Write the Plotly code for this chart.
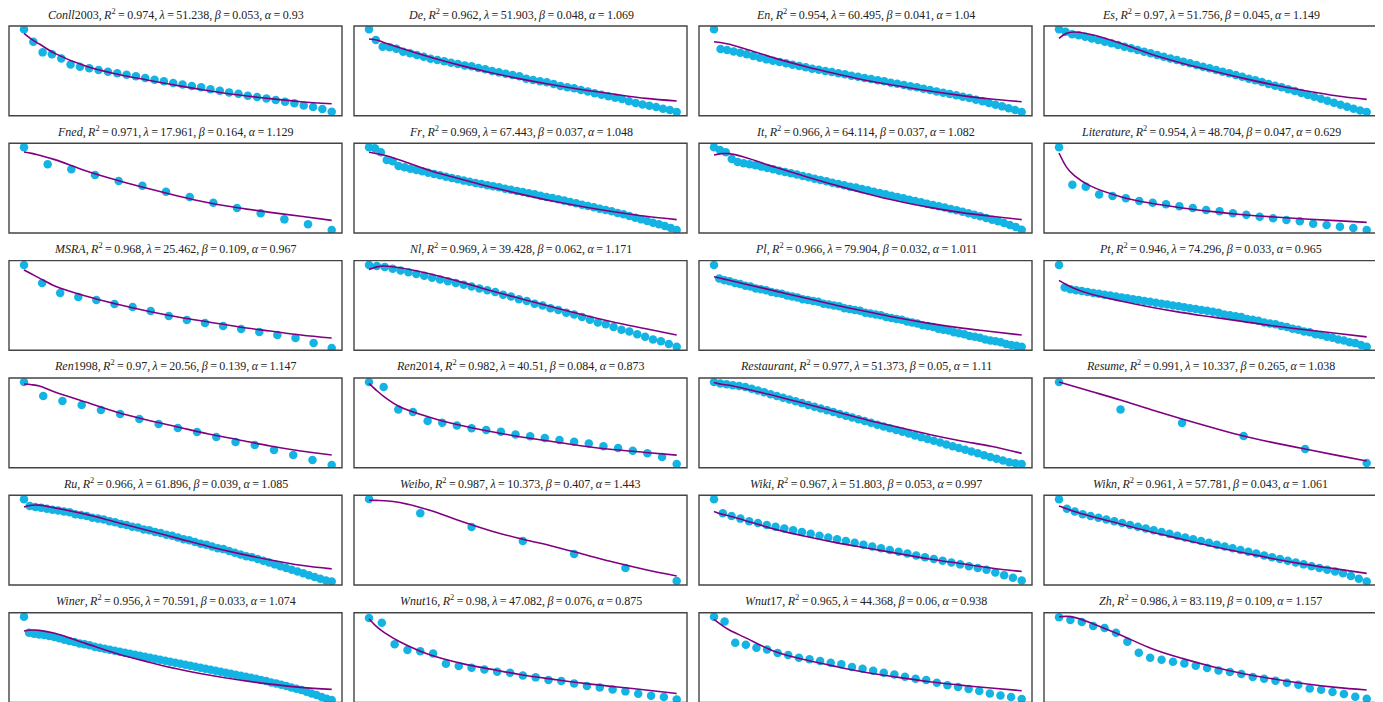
import re
import plotly.graph_objects as go

# page body has an 8px margin: the figure is sized so it ends at the window edge
OFF = 8
W, H = 1383 - OFF, 702 - OFF

names = ["Conll2003", "De", "En", "Es", "Fned", "Fr", "It", "Literature",
         "MSRA", "Nl", "Pl", "Pt", "Ren1998", "Ren2014", "Restaurant", "Resume",
         "Ru", "Weibo", "Wiki", "Wikn", "Winer", "Wnut16", "Wnut17", "Zh"]
r2 = [0.974, 0.962, 0.954, 0.97, 0.971, 0.969, 0.966, 0.954,
      0.968, 0.969, 0.966, 0.946, 0.97, 0.982, 0.977, 0.991,
      0.966, 0.987, 0.967, 0.961, 0.956, 0.98, 0.965, 0.986]
lam = [51.238, 51.903, 60.495, 51.756, 17.961, 67.443, 64.114, 48.704,
       25.462, 39.428, 79.904, 74.296, 20.56, 40.51, 51.373, 10.337,
       61.896, 10.373, 51.803, 57.781, 70.591, 47.082, 44.368, 83.119]
beta = [0.053, 0.048, 0.041, 0.045, 0.164, 0.037, 0.037, 0.047,
        0.109, 0.062, 0.032, 0.033, 0.139, 0.084, 0.05, 0.265,
        0.039, 0.407, 0.053, 0.043, 0.033, 0.076, 0.06, 0.109]
alpha = [0.93, 1.069, 1.04, 1.149, 1.129, 1.048, 1.082, 0.629,
         0.967, 1.171, 1.011, 0.965, 1.147, 0.873, 1.11, 1.038,
         1.085, 1.443, 0.997, 1.061, 1.074, 0.875, 0.938, 1.157]

conll2003_y = [0.963, 0.825, 0.706, 0.684, 0.639, 0.572, 0.546, 0.528, 0.509, 0.491,
               0.472, 0.457, 0.439, 0.420, 0.401, 0.383, 0.364, 0.349, 0.331, 0.316,
               0.294, 0.279, 0.260, 0.245, 0.223, 0.208, 0.193, 0.175, 0.156, 0.138,
               0.115, 0.097, 0.074, 0.045]
de_y = [0.963, 0.844, 0.770, 0.762, 0.747, 0.714, 0.695, 0.677, 0.658, 0.636,
        0.621, 0.606, 0.591, 0.576, 0.561, 0.550, 0.532, 0.517, 0.498, 0.483,
        0.468, 0.454, 0.439, 0.413, 0.398, 0.383, 0.372, 0.353, 0.331, 0.316,
        0.305, 0.286, 0.271, 0.249, 0.234, 0.216, 0.201, 0.186, 0.160, 0.141,
        0.126, 0.112, 0.097, 0.078, 0.063, 0.041]
en_y = [0.963, 0.743, 0.732, 0.717, 0.703, 0.684, 0.665, 0.647, 0.628, 0.613, 0.599,
        0.584, 0.569, 0.554, 0.539, 0.524, 0.513, 0.498, 0.487, 0.472, 0.461,
        0.446, 0.435, 0.420, 0.409, 0.394, 0.383, 0.368, 0.357, 0.342, 0.327,
        0.316, 0.301, 0.286, 0.271, 0.257, 0.242, 0.227, 0.212, 0.197, 0.178,
        0.160, 0.141, 0.123, 0.104, 0.082, 0.063, 0.041]
es_y = [0.963, 0.937, 0.907, 0.896, 0.881, 0.862, 0.844, 0.825, 0.807, 0.788,
        0.770, 0.751, 0.732, 0.714, 0.695, 0.677, 0.658, 0.639, 0.621, 0.602,
        0.584, 0.565, 0.546, 0.528, 0.509, 0.491, 0.472, 0.454, 0.435, 0.413,
        0.394, 0.375, 0.353, 0.335, 0.316, 0.294, 0.275, 0.253, 0.230, 0.212,
        0.190, 0.167, 0.145, 0.123, 0.100, 0.078, 0.059, 0.041]
fned_y = [0.955, 0.766, 0.710, 0.647, 0.580, 0.528, 0.461, 0.401, 0.338, 0.279,
          0.219, 0.152, 0.097, 0.033]
fr_y = [0.955, 0.944, 0.900, 0.814, 0.799, 0.747, 0.732, 0.717, 0.703, 0.688,
        0.673, 0.658, 0.643, 0.628, 0.613, 0.599, 0.584, 0.572, 0.558, 0.546,
        0.532, 0.520, 0.509, 0.494, 0.483, 0.468, 0.457, 0.442, 0.431, 0.416,
        0.401, 0.390, 0.375, 0.361, 0.346, 0.331, 0.316, 0.301, 0.286, 0.271,
        0.257, 0.242, 0.223, 0.208, 0.190, 0.171, 0.152, 0.134, 0.115, 0.097,
        0.078, 0.056, 0.033]
it_y = [0.955, 0.926, 0.900, 0.825, 0.792, 0.777, 0.766, 0.755, 0.740, 0.725,
        0.710, 0.695, 0.680, 0.665, 0.651, 0.636, 0.621, 0.606, 0.591, 0.576,
        0.561, 0.546, 0.532, 0.517, 0.506, 0.491, 0.476, 0.461, 0.446, 0.431,
        0.416, 0.401, 0.387, 0.372, 0.357, 0.342, 0.327, 0.312, 0.297, 0.283,
        0.268, 0.253, 0.238, 0.219, 0.204, 0.186, 0.167, 0.149, 0.130, 0.112,
        0.089, 0.067, 0.037]
literature_y = [0.955, 0.539, 0.517, 0.428, 0.413, 0.387, 0.357, 0.338, 0.320, 0.297,
                0.279, 0.257, 0.242, 0.219, 0.204, 0.182, 0.164, 0.145, 0.130, 0.104,
                0.089, 0.071, 0.056, 0.033]
msra_y = [0.951, 0.750, 0.639, 0.594, 0.561, 0.516, 0.483, 0.438, 0.382, 0.338,
          0.304, 0.271, 0.238, 0.204, 0.171, 0.137, 0.081, 0.026]
nl_y = [0.95, 0.94, 0.93, 0.91, 0.89, 0.87, 0.85, 0.83, 0.81, 0.79, 0.77, 0.75, 0.73,
        0.71, 0.69, 0.67, 0.65, 0.62, 0.60, 0.57, 0.55, 0.52, 0.50, 0.47, 0.45, 0.42,
        0.40, 0.37, 0.34, 0.31, 0.29, 0.26, 0.23, 0.21, 0.18, 0.15, 0.12, 0.10, 0.07, 0.04]
pl_y = [0.95, 0.80, 0.78, 0.77, 0.75, 0.74, 0.72, 0.71, 0.69, 0.68, 0.67, 0.65, 0.64,
        0.63, 0.61, 0.60, 0.59, 0.57, 0.56, 0.55, 0.54, 0.52, 0.51, 0.50, 0.49, 0.47,
        0.46, 0.45, 0.44, 0.42, 0.41, 0.40, 0.39, 0.37, 0.36, 0.35, 0.34, 0.32, 0.31,
        0.30, 0.28, 0.27, 0.26, 0.24, 0.23, 0.22, 0.20, 0.19, 0.18, 0.16, 0.15, 0.14,
        0.12, 0.11, 0.10, 0.09, 0.07, 0.06, 0.05, 0.04]
pt_y = [0.95, 0.70, 0.68, 0.67, 0.66, 0.65, 0.64, 0.63, 0.62, 0.61, 0.60, 0.59, 0.58,
        0.57, 0.56, 0.55, 0.54, 0.53, 0.52, 0.51, 0.50, 0.49, 0.48, 0.47, 0.46, 0.45,
        0.44, 0.43, 0.42, 0.40, 0.39, 0.38, 0.37, 0.35, 0.34, 0.33, 0.31, 0.30, 0.29,
        0.27, 0.26, 0.24, 0.23, 0.21, 0.20, 0.18, 0.17, 0.15, 0.14, 0.12, 0.11, 0.09,
        0.08, 0.06, 0.04]
ren1998_y = [0.955, 0.799, 0.743, 0.699, 0.643, 0.599, 0.543, 0.487, 0.443, 0.398,
             0.342, 0.287, 0.253, 0.197, 0.142, 0.086, 0.030]
ren2014_y = [0.955, 0.90, 0.65, 0.62, 0.52, 0.50, 0.47, 0.44, 0.42, 0.40, 0.37,
             0.35, 0.33, 0.31, 0.29, 0.27, 0.24, 0.22, 0.19, 0.16, 0.12, 0.04]
restaurant_y = [0.955, 0.94, 0.93, 0.92, 0.91, 0.90, 0.88, 0.86, 0.84, 0.82, 0.80,
                0.78, 0.76, 0.74, 0.72, 0.70, 0.68, 0.66, 0.64, 0.62, 0.60, 0.58,
                0.56, 0.54, 0.52, 0.50, 0.48, 0.46, 0.44, 0.42, 0.40, 0.38, 0.36,
                0.34, 0.32, 0.30, 0.28, 0.26, 0.24, 0.22, 0.20, 0.18, 0.16, 0.14,
                0.12, 0.10, 0.08, 0.06, 0.05, 0.04]
resume_y = [0.955, 0.65, 0.498, 0.353, 0.208, 0.052]
ru_y = [0.955, 0.88, 0.87, 0.86, 0.85, 0.84, 0.83, 0.82, 0.81, 0.79, 0.78, 0.77, 0.75,
        0.74, 0.73, 0.71, 0.70, 0.68, 0.67, 0.65, 0.64, 0.62, 0.61, 0.59, 0.58, 0.56,
        0.55, 0.53, 0.51, 0.50, 0.48, 0.46, 0.45, 0.43, 0.41, 0.40, 0.38, 0.36, 0.34,
        0.32, 0.31, 0.29, 0.27, 0.25, 0.23, 0.21, 0.19, 0.17, 0.15, 0.13, 0.11, 0.09,
        0.07, 0.05, 0.04]
weibo_y = [0.959, 0.80, 0.647, 0.49, 0.346, 0.19, 0.045]
wiki_y = [0.955, 0.80, 0.77, 0.74, 0.71, 0.69, 0.67, 0.65, 0.63, 0.61, 0.59, 0.57,
          0.55, 0.53, 0.51, 0.49, 0.47, 0.45, 0.43, 0.41, 0.39, 0.37, 0.35, 0.33,
          0.31, 0.29, 0.27, 0.25, 0.23, 0.21, 0.19, 0.17, 0.14, 0.11, 0.08, 0.05]
wikn_y = [0.955, 0.85, 0.82, 0.79, 0.77, 0.75, 0.73, 0.71, 0.69, 0.67, 0.65, 0.63,
          0.61, 0.59, 0.57, 0.55, 0.53, 0.51, 0.49, 0.47, 0.45, 0.43, 0.41, 0.39,
          0.37, 0.35, 0.33, 0.31, 0.29, 0.27, 0.25, 0.23, 0.21, 0.19, 0.17, 0.15,
          0.13, 0.10, 0.07, 0.04]
winer_y = [0.955, 0.777, 0.766, 0.758, 0.751, 0.740, 0.729, 0.714, 0.699, 0.684, 0.673,
           0.658, 0.647, 0.636, 0.621, 0.610, 0.599, 0.587, 0.576, 0.565, 0.554,
           0.543, 0.532, 0.520, 0.509, 0.498, 0.487, 0.476, 0.465, 0.454, 0.442,
           0.431, 0.420, 0.409, 0.398, 0.387, 0.375, 0.364, 0.353, 0.342, 0.331,
           0.320, 0.309, 0.297, 0.286, 0.275, 0.264, 0.249, 0.238, 0.223, 0.212,
           0.197, 0.182, 0.167, 0.152, 0.138, 0.119, 0.100, 0.082, 0.059, 0.041, 0.026]
wnut16_y = [0.941, 0.888, 0.647, 0.584, 0.569, 0.546, 0.431, 0.405, 0.387, 0.368,
            0.342, 0.331, 0.301, 0.279, 0.249, 0.238, 0.212, 0.182, 0.167, 0.145,
            0.123, 0.097, 0.074, 0.059, 0.033]
wnut17_y = [0.955, 0.903, 0.665, 0.643, 0.610, 0.591, 0.550, 0.528, 0.498, 0.480,
            0.461, 0.442, 0.424, 0.394, 0.375, 0.353, 0.331, 0.312, 0.286, 0.264,
            0.249, 0.219, 0.190, 0.171, 0.149, 0.126, 0.100, 0.078, 0.059, 0.037]
zh_y = [0.948, 0.918, 0.896, 0.851, 0.829, 0.777, 0.677, 0.554, 0.498, 0.476,
        0.454, 0.435, 0.409, 0.383, 0.357, 0.338, 0.316, 0.283, 0.264, 0.242,
        0.219, 0.197, 0.156, 0.141, 0.115, 0.093, 0.063, 0.041]

points = [conll2003_y, de_y, en_y, es_y, fned_y, fr_y, it_y, literature_y,
          msra_y, nl_y, pl_y, pt_y, ren1998_y, ren2014_y, restaurant_y, resume_y,
          ru_y, weibo_y, wiki_y, wikn_y, winer_y, wnut16_y, wnut17_y, zh_y]

# fitted curve, read at fractions of the rank span
fit_t = [0, 0.025, 0.05, 0.1, 0.2, 0.3, 0.4, 0.5, 0.6, 0.7, 0.8, 0.9, 1.0]
conll2003_fit = [0.918, 0.851, 0.799, 0.695, 0.554, 0.465, 0.398, 0.335, 0.279, 0.230, 0.190, 0.156, 0.134]
de_fit = [0.855, 0.844, 0.814, 0.758, 0.651, 0.558, 0.476, 0.405, 0.342, 0.286, 0.238, 0.193, 0.164]
en_fit = [0.825, 0.814, 0.796, 0.747, 0.639, 0.546, 0.465, 0.390, 0.331, 0.275, 0.227, 0.186, 0.156]
es_fit = [0.862, 0.918, 0.933, 0.907, 0.807, 0.684, 0.584, 0.498, 0.416, 0.342, 0.279, 0.223, 0.182]
fned_fit = [0.903, 0.888, 0.866, 0.818, 0.695, 0.591, 0.498, 0.413, 0.338, 0.279, 0.230, 0.186, 0.141]
fr_fit = [0.900, 0.885, 0.866, 0.814, 0.695, 0.599, 0.509, 0.428, 0.353, 0.290, 0.234, 0.186, 0.149]
it_fit = [0.870, 0.885, 0.885, 0.844, 0.732, 0.628, 0.528, 0.435, 0.353, 0.286, 0.230, 0.186, 0.149]
literature_fit = [0.892, 0.732, 0.639, 0.528, 0.405, 0.331, 0.279, 0.238, 0.204, 0.178, 0.156, 0.138, 0.119]
msra_fit = [0.895, 0.85, 0.805, 0.717, 0.605, 0.516, 0.438, 0.371, 0.315, 0.260, 0.215, 0.171, 0.137]
nl_fit = [0.90, 0.93, 0.94, 0.92, 0.85, 0.76, 0.66, 0.57, 0.48, 0.39, 0.31, 0.24, 0.17]
pl_fit = [0.82, 0.80, 0.78, 0.74, 0.66, 0.58, 0.50, 0.43, 0.36, 0.30, 0.25, 0.21, 0.17]
pt_fit = [0.78, 0.73, 0.69, 0.63, 0.55, 0.48, 0.42, 0.37, 0.32, 0.27, 0.23, 0.19, 0.15]
ren1998_fit = [0.933, 0.925, 0.91, 0.844, 0.732, 0.621, 0.532, 0.454, 0.376, 0.309, 0.242, 0.186, 0.142]
ren2014_fit = [0.94, 0.86, 0.79, 0.68, 0.56, 0.47, 0.40, 0.34, 0.29, 0.24, 0.20, 0.17, 0.14]
restaurant_fit = [0.95, 0.93, 0.92, 0.88, 0.80, 0.71, 0.62, 0.53, 0.45, 0.37, 0.30, 0.24, 0.16]
resume_fit = [0.955, 0.93, 0.905, 0.855, 0.755, 0.645, 0.543, 0.445, 0.353, 0.277, 0.208, 0.14, 0.075]
ru_fit = [0.87, 0.89, 0.89, 0.86, 0.79, 0.70, 0.61, 0.52, 0.43, 0.35, 0.28, 0.22, 0.18]
weibo_fit = [0.945, 0.943, 0.94, 0.92, 0.83, 0.71, 0.60, 0.51, 0.43, 0.34, 0.25, 0.17, 0.10]
wiki_fit = [0.82, 0.79, 0.77, 0.72, 0.62, 0.54, 0.47, 0.41, 0.35, 0.29, 0.24, 0.19, 0.15]
wikn_fit = [0.88, 0.85, 0.82, 0.77, 0.68, 0.59, 0.51, 0.43, 0.36, 0.29, 0.23, 0.18, 0.13]
winer_fit = [0.796, 0.807, 0.803, 0.770, 0.658, 0.546, 0.454, 0.372, 0.305, 0.249, 0.204, 0.167, 0.145]
wnut16_fit = [0.933, 0.844, 0.777, 0.677, 0.528, 0.435, 0.368, 0.305, 0.257, 0.212, 0.175, 0.138, 0.100]
wnut17_fit = [0.926, 0.862, 0.807, 0.725, 0.565, 0.472, 0.398, 0.331, 0.279, 0.230, 0.193, 0.160, 0.130]
zh_fit = [0.955, 0.959, 0.948, 0.892, 0.751, 0.602, 0.491, 0.398, 0.320, 0.260, 0.208, 0.167, 0.138]

fits = [conll2003_fit, de_fit, en_fit, es_fit, fned_fit, fr_fit, it_fit, literature_fit,
        msra_fit, nl_fit, pl_fit, pt_fit, ren1998_fit, ren2014_fit, restaurant_fit, resume_fit,
        ru_fit, weibo_fit, wiki_fit, wikn_fit, winer_fit, wnut16_fit, wnut17_fit, zh_fit]

# ---------------- layout geometry (screen pixels) ----------------
col_left = [9, 354, 699, 1044]
panel_w = 333
row_top = [26, 143.3, 260.6, 378, 495.3, 612.7]
panel_h = 89.7
pad_left, pad_right = 15, 10.3

DOT = "#13b4e3"
LINE = "#800080"
FRAME = "#444444"
THIN = "\u2009"


def italic_name(n):
    return re.sub(r"([A-Za-z]+)", r"<i>\1</i>", n)


def eq(sym, val):
    return f"{sym}{THIN}={THIN}{val}"


fig = go.Figure()
layout = dict(
    width=W, height=H, margin=dict(l=0, r=0, t=0, b=0),
    paper_bgcolor="white", plot_bgcolor="white", showlegend=False,
    font=dict(family="Liberation Serif", size=12, color="#222222"),
)
shapes, annotations = [], []

for k, name in enumerate(names):
    r, c = divmod(k, 4)
    ax = "" if k == 0 else str(k + 1)
    ys = points[k]
    n = len(ys)
    xs = list(range(1, n + 1))
    fx = [1 + t * (n - 1) for t in fit_t]

    fig.add_trace(go.Scatter(x=xs, y=ys, mode="markers",
                             marker=dict(size=8.5, color=DOT, line=dict(width=0)),
                             xaxis="x" + ax, yaxis="y" + ax, hoverinfo="skip"))
    fig.add_trace(go.Scatter(x=fx, y=fits[k], mode="lines",
                             line=dict(color=LINE, width=1.6, shape="spline", smoothing=1.0),
                             xaxis="x" + ax, yaxis="y" + ax, hoverinfo="skip"))

    left = col_left[c] - OFF
    top = row_top[r] - OFF
    bottom = top + panel_h
    ppu = (panel_w - pad_left - pad_right) / (n - 1)
    xr = [1 - pad_left / ppu, n + pad_right / ppu]
    y0 = max(0.0, 1 - bottom / H)
    y1 = 1 - top / H
    ylo = (bottom - H) / panel_h if bottom > H else 0.0
    x1 = min(1.0, (left + panel_w) / W)
    xhi = xr[0] + (xr[1] - xr[0]) * (x1 * W - left) / panel_w

    layout["xaxis" + ax] = dict(domain=[left / W, x1], range=[xr[0], xhi],
                                showgrid=False, zeroline=False, showticklabels=False,
                                ticks="", showline=False, fixedrange=True,
                                anchor="y" + ax)
    layout["yaxis" + ax] = dict(domain=[y0, y1], range=[ylo, 1],
                                showgrid=False, zeroline=False, showticklabels=False,
                                ticks="", showline=False, fixedrange=True,
                                anchor="x" + ax)
    shapes.append(dict(type="rect", xref="paper", yref="paper",
                       x0=left / W, x1=(left + panel_w) / W,
                       y0=1 - bottom / H, y1=1 - top / H,
                       line=dict(color=FRAME, width=1.4), layer="above"))
    sep = "," + THIN
    title = sep.join([italic_name(name),
                      eq("<i>R</i><sup>2</sup>", r2[k]),
                      eq("<i>λ</i>", lam[k]),
                      eq("<i>β</i>", beta[k]),
                      eq("<i>α</i>", alpha[k])])
    annotations.append(dict(text=title, xref="paper", yref="paper",
                            x=(left + panel_w / 2) / W, y=1 - (top - 12) / H,
                            xanchor="center", yanchor="middle", showarrow=False,
                            font=dict(family="Liberation Serif", size=12, color="#222222")))

layout["shapes"] = shapes
layout["annotations"] = annotations
fig.update_layout(**layout)
fig.write_html("out.html")
